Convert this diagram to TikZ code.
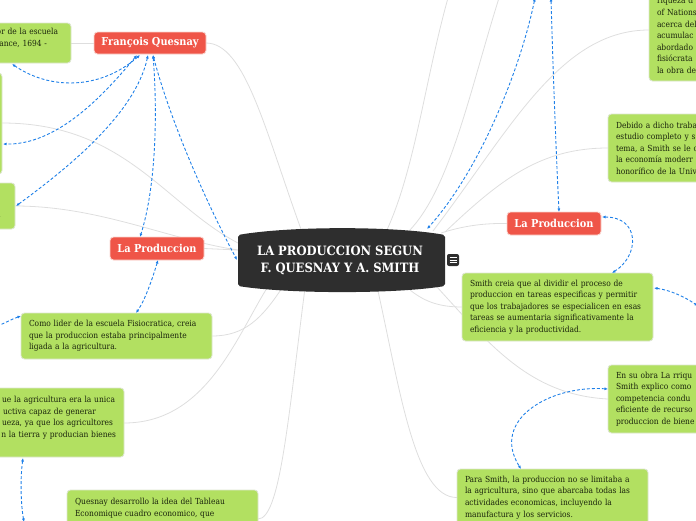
\documentclass[tikz,border=0pt]{standalone}
\usepackage{fontspec}
\setmainfont{DejaVu Serif Condensed}
\usetikzlibrary{arrows.meta}
\definecolor{leaf}{HTML}{B2E061}
\definecolor{leafedge}{HTML}{DDE6D0}
\definecolor{tomato}{HTML}{EF5548}
\definecolor{tomatoedge}{HTML}{F9D5CF}
\definecolor{hub}{HTML}{2E2E2E}
\definecolor{wire}{HTML}{DEDEDE}
\definecolor{link}{HTML}{1F80E8}
\definecolor{ink}{HTML}{1A240C}
\pgfdeclarelayer{bg}
\pgfsetlayers{bg,main}
\tikzset{
 x=1pt,y=-1pt,
 leafbox/.style={fill=leaf,draw=leafedge,line width=0.9pt,rounded corners=3.5pt,inner xsep=8pt,inner ysep=0pt,
   text=ink,font=\fontsize{8.35}{11.55}\selectfont,align=left,outer sep=0pt},
 redbox/.style={fill=tomato,draw=tomatoedge,line width=0.9pt,rounded corners=3.5pt,inner sep=0pt,minimum width=#1,
   text=white,font=\fontsize{10.9}{12}\bfseries\selectfont,outer sep=0pt},
 redbox/.default=94pt,
 wireline/.style={draw=wire,line width=0.8pt},
 linkline/.style={draw=link,line width=0.9pt,dash pattern=on 3pt off 2pt,{Latex[length=3.5pt,width=3pt]}-{Latex[length=3.5pt,width=3pt]}},
}
\begin{document}
\begin{tikzpicture}
\path[use as bounding box] (0,0) rectangle (696,520);
% boxes
\node[leafbox,minimum width=171pt,minimum height=40pt,align=right,text width=155pt] (b1) at (-14.5,43) {or de la escuela\kern5pt\\ance, 1694 -\kern16pt\\\mbox{}};
\node[leafbox,minimum width=102pt,minimum height=101pt] (b2) at (-49,123.5) {};
\node[leafbox,minimum width=115pt,minimum height=46pt,align=right,text width=99pt] (b3) at (-42.5,206) {\mbox{}\\\mbox{}\\.\kern6pt};
\node[redbox=112pt,minimum height=22pt] (q) at (150,43) {François Quesnay};
\node[redbox,minimum height=23pt] (lp) at (157,248.5) {La Produccion};
\node[text=white,font=\fontsize{12.85}{17}\bfseries\selectfont,align=center,minimum width=207pt,minimum height=62pt,inner sep=0pt,outer sep=0pt] (c) at (340,260) {LA PRODUCCION SEGUN\\F. QUESNAY Y A. SMITH};
\node[leafbox,minimum width=191pt,minimum height=46pt,text width=175pt] (como) at (116.5,336) {Como lider de la escuela Fisiocratica, creia\\que la produccion estaba principalmente\\ligada a la agricultura.};
\node[leafbox,minimum width=224pt,minimum height=69pt,align=right,text width=208pt] (agr) at (12,422.5) {ue la agricultura era la unica\kern1pt\\uctiva capaz de generar\kern20pt\\ueza, ya que los agricultores\kern3pt\\n la tierra y producian bienes\\\mbox{}};
\node[leafbox,minimum width=191pt,minimum height=58pt,text width=175pt] (qd) at (162.5,519) {Quesnay desarrollo la idea del Tableau\\Economique cuadro economico, que\\\mbox{}\\\mbox{}};
\node[redbox,minimum height=23pt] (lpr) at (554,223.5) {La Produccion};
\node[leafbox,minimum width=191pt,minimum height=68pt,text width=175pt] (sm) at (557.5,307) {Smith creia que al dividir el proceso de\\produccion en tareas especificas y permitir\\que los trabajadores se especialicen en esas\\tareas se aumentaria significativamente la\\eficiencia y la productividad.};
\node[leafbox,minimum width=191pt,minimum height=68pt,text width=175pt] (en) at (703.5,399) {En su obra La rriqu\\Smith explico como\\competencia condu\\eficiente de recurso\\produccion de biene};
\node[leafbox,minimum width=191pt,minimum height=57pt,text width=175pt] (ps) at (552.5,497.5) {Para Smith, la produccion no se limitaba a\\la agricultura, sino que abarcaba todas las\\actividades economicas, incluyendo la\\manufactura y los servicios.};
\node[leafbox,minimum width=191pt,minimum height=68pt,text width=175pt] (de) at (703.5,148) {Debido a dicho traba\\estudio completo y s\\tema, a Smith se le c\\la economía moderr\\honorífico de la Univ};
\node[leafbox,minimum width=191pt,minimum height=91pt,text width=175pt] (tr) at (744.5,35.5) {riqueza d\\of Nations\\acerca del\\acumulac\\abordado\\fisiócrata\\la obra de};
\node[fill=hub,rounded corners=2pt,minimum width=12pt,minimum height=12pt,inner sep=0pt,outer sep=0pt] (menu) at (453,260) {};
\draw[white,line width=0.9pt] ([xshift=-3.5pt,yshift=2.5pt]menu.center) -- ([xshift=3.5pt,yshift=2.5pt]menu.center)
 ([xshift=-3.5pt]menu.center) -- ([xshift=3.5pt]menu.center)
 ([xshift=-3.5pt,yshift=-2.5pt]menu.center) -- ([xshift=3.5pt,yshift=-2.5pt]menu.center);
% free ends
\coordinate (t1) at (448,-2);
\coordinate (t2) at (499,-2);
\coordinate (t3) at (535,-2);
\coordinate (t4) at (551,-2);
\coordinate (offa) at (-5,327);
\coordinate (offb) at (24,522);
\coordinate (offc) at (698,306);
\coordinate (hubwest) at (238,260);
\coordinate (hubnorth) at (341.5,229);
\coordinate (hubsouth) at (341.5,291);
\begin{pgfonlayer}{bg}
\path[wireline] (b1.east) -- (q.west);
\path[wireline] (q.east) .. controls (245,43) and (265,130) .. ([xshift=-39.5pt,yshift=-3pt]hubnorth);
\path[wireline] ([yshift=0.5pt]b2.east) .. controls (125,123) and (165,205) .. ([yshift=17pt]hubwest);
\path[wireline] (b3.east) .. controls (100,206) and (170,240) .. ([yshift=10pt]hubwest);
\path[wireline] (lp.east) -- ([yshift=10pt]hubwest);
\path[wireline] (como.east) .. controls (245,336) and (262,318) .. ([xshift=-59.5pt,yshift=3pt]hubsouth);
\path[wireline] ([yshift=-0.5pt]agr.east) .. controls (205,423) and (235,340) .. ([xshift=-74.5pt,yshift=3pt]hubsouth);
\path[wireline] (qd.east) .. controls (280,519) and (288,420) .. ([xshift=-36.5pt,yshift=3pt]hubsouth);
\path[wireline] (t1) .. controls (425,80) and (415,170) .. ([xshift=44.5pt,yshift=-3pt]hubnorth);
\path[wireline] (t2) .. controls (470,90) and (450,190) .. ([xshift=66.5pt,yshift=-3pt]hubnorth);
\path[wireline] ([yshift=5.5pt]tr.west) .. controls (560,30) and (510,130) .. ([xshift=91.5pt,yshift=-2pt]hubnorth);
\path[wireline] (de.west) .. controls (540,148) and (500,180) .. ([xshift=103.5pt,yshift=-3pt]hubnorth);
\path[wireline] (lpr.west) .. controls (480,223) and (460,227) .. ([xshift=99.5pt,yshift=-4pt]hubnorth);
\path[wireline] (sm.west) .. controls (440,307) and (425,302) .. ([xshift=68.5pt,yshift=1pt]hubsouth);
\path[wireline] (en.west) .. controls (530,395) and (490,345) .. ([xshift=95.5pt,yshift=4pt]hubsouth);
\path[wireline] (ps.west) .. controls (415,498) and (400,390) .. ([xshift=36.5pt]hubsouth);
\fill[hub,rounded corners=2pt] (238,235) .. controls (290,226) and (395,226) .. (445,235) -- (445,286) .. controls (395,294) and (290,294) .. (238,286) -- cycle;
\end{pgfonlayer}
% dashed links
\path[linkline] ([xshift=-10pt,yshift=-1pt]q.south) .. controls (100,90) and (50,90) .. ([xshift=26.5pt,yshift=-1pt]b1.south);
\path[linkline] ([xshift=-13pt,yshift=-1pt]q.south) .. controls (100,100) and (55,145) .. ([xshift=1pt,yshift=-20.5pt]b2.east);
\path[linkline] ([xshift=-2pt,yshift=-1pt]q.south) .. controls (135,115) and (65,170) .. ([xshift=1pt]b3.east);
\path[linkline] ([xshift=3pt,yshift=-1pt]q.south) .. controls (158,120) and (155,190) .. ([xshift=-17pt]lp.north);
\path[linkline] ([xshift=3pt,yshift=-1pt]q.south) .. controls (170,120) and (205,200) .. ([xshift=-1pt]hubwest);
\path[linkline] ([xshift=1pt]lp.south) .. controls (152,280) and (145,300) .. ([xshift=19.5pt]como.north);
\path[linkline] ([yshift=20pt]como.west) .. controls (12,319) and (5,323) .. (offa);
\path[linkline] ([xshift=11pt,yshift=-1pt]agr.south) .. controls (20,480) and (21,505) .. (offb);
\path[linkline] (t3) .. controls (520,70) and (480,170) .. ([xshift=85.5pt]hubnorth);
\path[linkline] (t4) .. controls (553,70) and (556,150) .. ([xshift=5pt]lpr.north);
\path[linkline] ([yshift=6.5pt,xshift=1pt]lpr.east) .. controls (640,217) and (640,255) .. ([xshift=54.5pt]sm.north);
\path[linkline] ([yshift=19pt,xshift=1pt]sm.east) .. controls (670,290) and (685,297) .. (offc);
\path[linkline] ([yshift=10pt]en.west) .. controls (550,385) and (490,420) .. ([xshift=-31.5pt]ps.north);
\end{tikzpicture}
\end{document}
